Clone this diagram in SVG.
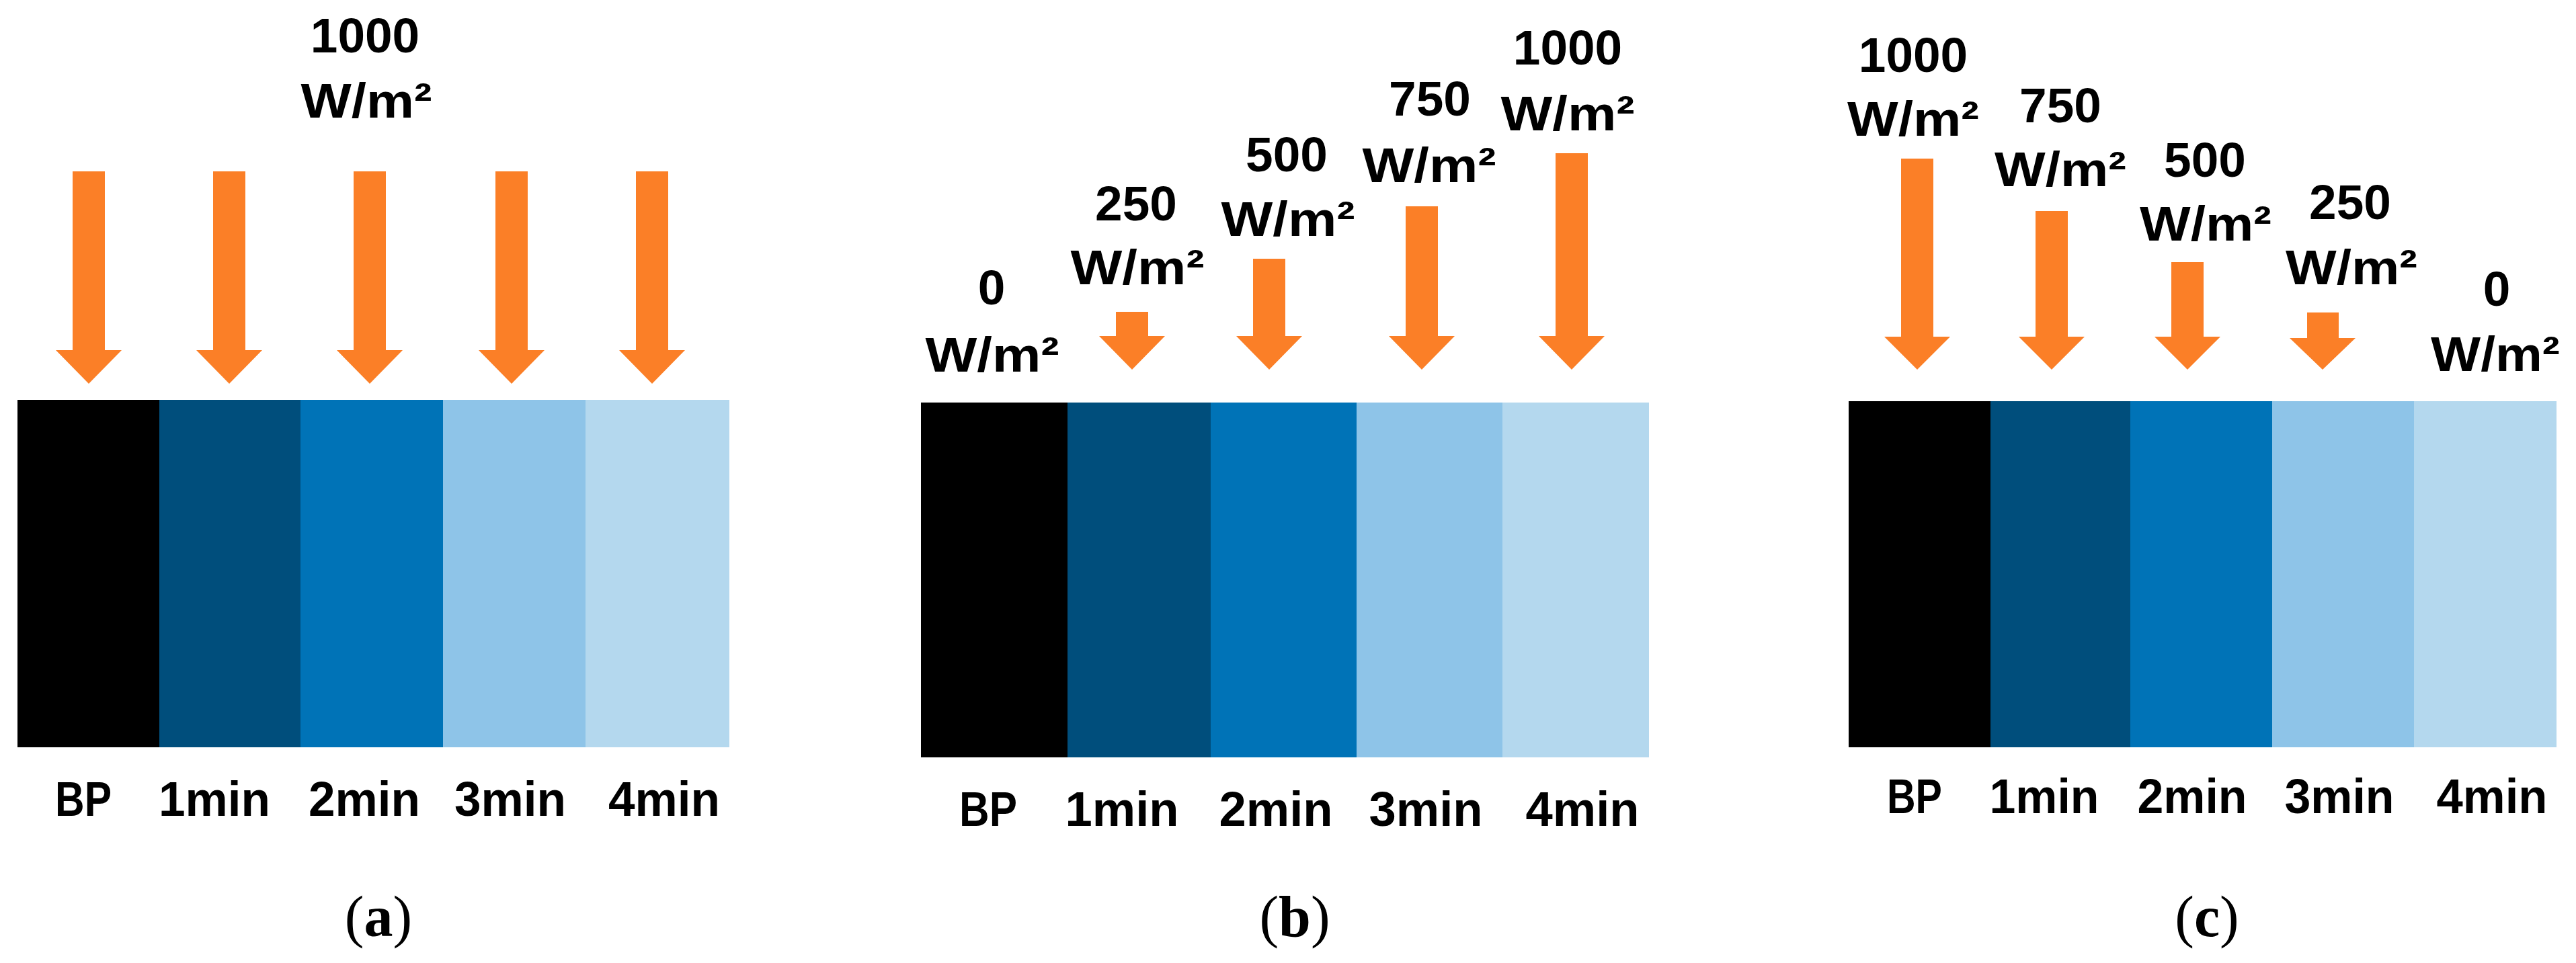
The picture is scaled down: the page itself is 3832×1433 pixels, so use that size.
<svg xmlns="http://www.w3.org/2000/svg" width="3832" height="1433" viewBox="0 0 3832 1433">
<style>
.lbl{font-family:"Liberation Sans",Arial,sans-serif;font-weight:bold;font-size:73px;fill:#000;text-anchor:middle}
.cap{font-family:"Liberation Serif","Times New Roman",serif;font-size:86px;fill:#000;text-anchor:middle}
.arr{fill:#fb7f27}
.c0{fill:#000000}.c1{fill:#004e7c}.c2{fill:#0073b7}.c3{fill:#8ec4e8}.c4{fill:#b4d8ee}
</style>
<rect width="3832" height="1433" fill="#ffffff"/>

<!-- Panel (a) -->
<g id="panel-a">
  <g id="a-irradiance">
    <text class="lbl" x="543" y="78">1000</text>
    <text class="lbl" x="545" y="175" textLength="195" lengthAdjust="spacingAndGlyphs">W/m²</text>
  </g>
  <g id="a-arrows">
    <polygon class="arr" points="108,255 156,255 156,521 181,521 132,571 83,521 108,521"/>
    <polygon class="arr" points="317,255 365,255 365,521 390,521 341,571 292,521 317,521"/>
    <polygon class="arr" points="526,255 574,255 574,521 599,521 550,571 501,521 526,521"/>
    <polygon class="arr" points="737,255 785,255 785,521 810,521 761,571 712,521 737,521"/>
    <polygon class="arr" points="946,255 994,255 994,521 1019,521 970,571 921,521 946,521"/>
  </g>
  <g id="a-bar">
    <rect class="c0" x="26" y="595" width="211" height="517"/>
    <rect class="c1" x="237" y="595" width="210" height="517"/>
    <rect class="c2" x="447" y="595" width="212" height="517"/>
    <rect class="c3" x="659" y="595" width="212" height="517"/>
    <rect class="c4" x="871" y="595" width="214" height="517"/>
  </g>
  <g id="a-times">
    <text class="lbl" x="124" y="1214" textLength="84" lengthAdjust="spacingAndGlyphs">BP</text>
    <text class="lbl" x="319" y="1214" textLength="166" lengthAdjust="spacingAndGlyphs">1min</text>
    <text class="lbl" x="542" y="1214" textLength="166" lengthAdjust="spacingAndGlyphs">2min</text>
    <text class="lbl" x="759" y="1214" textLength="166" lengthAdjust="spacingAndGlyphs">3min</text>
    <text class="lbl" x="988" y="1214" textLength="166" lengthAdjust="spacingAndGlyphs">4min</text>
  </g>
  <text id="a-caption" class="cap" x="563" y="1393">(<tspan font-weight="bold">a</tspan>)</text>
</g>

<!-- Panel (b) -->
<g id="panel-b">
  <g id="b-irradiance">
    <text class="lbl" x="1475" y="453">0</text>
    <text class="lbl" x="1476" y="553" textLength="199" lengthAdjust="spacingAndGlyphs">W/m²</text>
    <text class="lbl" x="1690" y="328">250</text>
    <text class="lbl" x="1692" y="423" textLength="199" lengthAdjust="spacingAndGlyphs">W/m²</text>
    <text class="lbl" x="1914" y="255">500</text>
    <text class="lbl" x="1916" y="351" textLength="199" lengthAdjust="spacingAndGlyphs">W/m²</text>
    <text class="lbl" x="2127" y="172">750</text>
    <text class="lbl" x="2126" y="271" textLength="199" lengthAdjust="spacingAndGlyphs">W/m²</text>
    <text class="lbl" x="2332" y="96">1000</text>
    <text class="lbl" x="2332" y="194" textLength="199" lengthAdjust="spacingAndGlyphs">W/m²</text>
  </g>
  <g id="b-arrows">
    <polygon class="arr" points="1660,464 1708,464 1708,500 1733,500 1684,550 1635,500 1660,500"/>
    <polygon class="arr" points="1864,385 1912,385 1912,500 1937,500 1888,550 1839,500 1864,500"/>
    <polygon class="arr" points="2091,307 2139,307 2139,500 2164,500 2115,550 2066,500 2091,500"/>
    <polygon class="arr" points="2314,228 2362,228 2362,500 2387,500 2338,550 2289,500 2314,500"/>
  </g>
  <g id="b-bar">
    <rect class="c0" x="1370" y="599" width="218" height="528"/>
    <rect class="c1" x="1588" y="599" width="213" height="528"/>
    <rect class="c2" x="1801" y="599" width="217" height="528"/>
    <rect class="c3" x="2018" y="599" width="217" height="528"/>
    <rect class="c4" x="2235" y="599" width="218" height="528"/>
  </g>
  <g id="b-times">
    <text class="lbl" x="1470" y="1229" textLength="86" lengthAdjust="spacingAndGlyphs">BP</text>
    <text class="lbl" x="1669" y="1229" textLength="169" lengthAdjust="spacingAndGlyphs">1min</text>
    <text class="lbl" x="1898" y="1229" textLength="169" lengthAdjust="spacingAndGlyphs">2min</text>
    <text class="lbl" x="2121" y="1229" textLength="169" lengthAdjust="spacingAndGlyphs">3min</text>
    <text class="lbl" x="2354" y="1229" textLength="169" lengthAdjust="spacingAndGlyphs">4min</text>
  </g>
  <text id="b-caption" class="cap" x="1926" y="1393">(<tspan font-weight="bold">b</tspan>)</text>
</g>

<!-- Panel (c) -->
<g id="panel-c">
  <g id="c-irradiance">
    <text class="lbl" x="2846" y="107">1000</text>
    <text class="lbl" x="2846" y="202" textLength="196" lengthAdjust="spacingAndGlyphs">W/m²</text>
    <text class="lbl" x="3065" y="182">750</text>
    <text class="lbl" x="3065" y="277" textLength="196" lengthAdjust="spacingAndGlyphs">W/m²</text>
    <text class="lbl" x="3280" y="263">500</text>
    <text class="lbl" x="3281" y="358" textLength="196" lengthAdjust="spacingAndGlyphs">W/m²</text>
    <text class="lbl" x="3496" y="326">250</text>
    <text class="lbl" x="3498" y="423" textLength="196" lengthAdjust="spacingAndGlyphs">W/m²</text>
    <text class="lbl" x="3714" y="455">0</text>
    <text class="lbl" x="3712" y="552" textLength="192" lengthAdjust="spacingAndGlyphs">W/m²</text>
  </g>
  <g id="c-arrows">
    <polygon class="arr" points="2828,236 2876,236 2876,501 2901,501 2852,550 2803,501 2828,501"/>
    <polygon class="arr" points="3028,314 3076,314 3076,501 3101,501 3052,550 3003,501 3028,501"/>
    <polygon class="arr" points="3230,390 3278,390 3278,501 3303,501 3254,550 3205,501 3230,501"/>
    <polygon class="arr" points="3432,465 3479,465 3479,503 3504,503 3455,550 3406,503 3432,503"/>
  </g>
  <g id="c-bar">
    <rect class="c0" x="2750" y="597" width="211" height="515"/>
    <rect class="c1" x="2961" y="597" width="208" height="515"/>
    <rect class="c2" x="3169" y="597" width="211" height="515"/>
    <rect class="c3" x="3380" y="597" width="211" height="515"/>
    <rect class="c4" x="3591" y="597" width="212" height="515"/>
  </g>
  <g id="c-times">
    <text class="lbl" x="2848" y="1210" textLength="82" lengthAdjust="spacingAndGlyphs">BP</text>
    <text class="lbl" x="3041" y="1210" textLength="163" lengthAdjust="spacingAndGlyphs">1min</text>
    <text class="lbl" x="3261" y="1210" textLength="163" lengthAdjust="spacingAndGlyphs">2min</text>
    <text class="lbl" x="3480" y="1210" textLength="163" lengthAdjust="spacingAndGlyphs">3min</text>
    <text class="lbl" x="3707" y="1210" textLength="165" lengthAdjust="spacingAndGlyphs">4min</text>
  </g>
  <text id="c-caption" class="cap" x="3283" y="1393">(<tspan font-weight="bold">c</tspan>)</text>
</g>
</svg>
